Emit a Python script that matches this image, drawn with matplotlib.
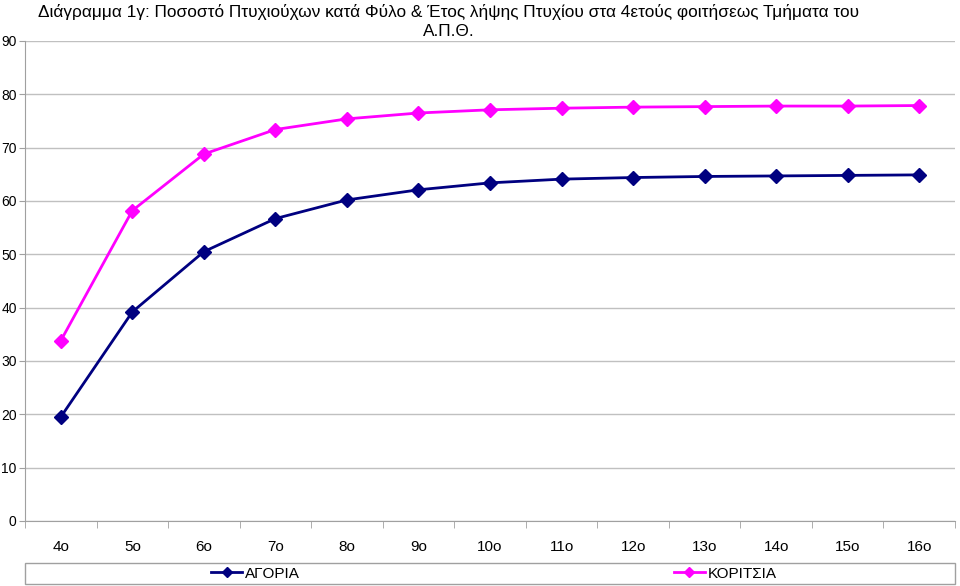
import numpy as np
import matplotlib.pyplot as plt
from matplotlib.patches import Rectangle

plt.rcParams['font.family'] = ['Liberation Sans', 'DejaVu Sans']

# Δεδομένα (ποσοστό πτυχιούχων ανά έτος λήψης πτυχίου)
eti = ["4ο", "5ο", "6ο", "7ο", "8ο", "9ο", "10ο", "11ο", "12ο", "13ο", "14ο", "15ο", "16ο"]
agoria = [19.5, 39.2, 50.5, 56.7, 60.2, 62.1, 63.4, 64.1, 64.4, 64.6, 64.7, 64.8, 64.9]
koritsia = [33.8, 58.2, 68.8, 73.4, 75.4, 76.5, 77.1, 77.4, 77.6, 77.7, 77.8, 77.8, 77.9]

titlos = ("Διάγραμμα 1γ: Ποσοστό Πτυχιούχων κατά Φύλο & Έτος λήψης Πτυχίου "
          "στα 4ετούς φοιτήσεως Τμήματα του\nΑ.Π.Θ.")

fig = plt.figure(figsize=(9.6, 5.86), dpi=100)
ax = fig.add_axes([25 / 960, 1 - 521 / 586, 930 / 960, 480 / 586])

x = np.arange(len(eti))
ax.plot(x, agoria, color="#000080", lw=2, marker="D", ms=7, label="ΑΓΟΡΙΑ", zorder=3)
ax.plot(x, koritsia, color="#FF00FF", lw=2, marker="D", ms=7, label="ΚΟΡΙΤΣΙΑ", zorder=3)

ax.set_ylim(0, 90)
ax.set_yticks(range(0, 91, 10))
ax.set_xlim(-0.5, len(eti) - 0.5)
ax.set_xticks(x)
ax.set_xticklabels(eti)
ax.set_xticks(np.arange(-0.5, len(eti), 1), minor=True)
ax.tick_params(axis="x", which="major", length=0, pad=14, labelsize=11)
ax.tick_params(axis="x", which="minor", length=5, color="#a0a0a0", direction="out")
ax.tick_params(axis="y", length=4, color="#a0a0a0", labelsize=10, pad=2)

ax.grid(axis="y", color="#c0c0c0", lw=1)
ax.set_axisbelow(True)
for s in ["top", "right"]:
    ax.spines[s].set_visible(False)
for s in ["left", "bottom"]:
    ax.spines[s].set_color("#a0a0a0")

# τίτλος άξονα, κρυμμένος σχεδόν πίσω από το υπόμνημα
fig.text(470 / 960, 1 - 571 / 586, "(Έτος λήψης Πτυχίου)", ha="center", va="center",
         fontsize=12, zorder=1)

fig.text(449 / 960, 1 - 21.5 / 586, titlos, ha="center", va="center", fontsize=12.4,
         linespacing=1.35)

# πλαίσιο υπομνήματος
fig.patches.append(Rectangle((25 / 960, 1 - 584 / 586), 930 / 960, 21 / 586,
                             transform=fig.transFigure, facecolor="white",
                             edgecolor="#a0a0a0", lw=1, zorder=5))
leg = fig.legend(loc="center", bbox_to_anchor=(494 / 960, 1 - 573.5 / 586), ncol=2,
                 frameon=False, fontsize=11, columnspacing=24.5, handlelength=2.0,
                 handletextpad=0.2, borderpad=0, markerscale=0.8)
leg.set_zorder(6)

fig.savefig("out.png", dpi=100)
